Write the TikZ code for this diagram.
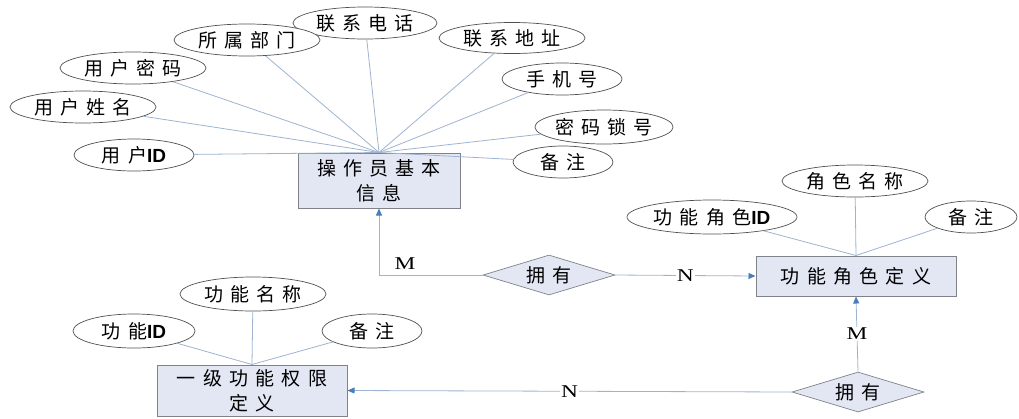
\documentclass[tikz,border=0pt]{standalone}
\usepackage{fontspec}
\setmainfont{Liberation Serif}
\newfontfamily\cjk[LetterSpace=38]{Noto Sans CJK SC}
\newfontfamily\idf{Liberation Sans}
\usetikzlibrary{shapes.geometric,arrows.meta}
\definecolor{lnc}{HTML}{9DB3CF}
\definecolor{ellc}{HTML}{505050}
\definecolor{boxc}{HTML}{7F8288}
\definecolor{boxf}{HTML}{E2E7F3}
\definecolor{arrc}{HTML}{4A7EBB}
\newcommand{\ID}{{\idf\bfseries ID}}
\tikzset{
  attr/.style={ellipse, draw=ellc, line width=0.7pt, fill=white, inner sep=0pt,
    font=\cjk\fontsize{19}{21}\selectfont},
  entity/.style={rectangle, draw=boxc, line width=1pt, fill=boxf, inner sep=0pt,
    align=center, font=\cjk\fontsize{19}{25}\selectfont},
  rel/.style={diamond, draw=boxc, line width=0.7pt, fill=boxf, inner sep=0pt,
    aspect=3.3, minimum width=132pt, minimum height=40pt,
    font=\cjk\fontsize{19}{21}\selectfont},
  link/.style={draw=lnc, line width=0.8pt},
  card/.style={fill=white, inner sep=1pt, xscale=1.3, font=\fontsize{18}{18}\selectfont},
  tip/.style={link, -{Triangle[length=7pt,width=6pt,fill=arrc,color=arrc]}},
}
\begin{document}
\begin{tikzpicture}[x=1pt,y=-1pt]
\useasboundingbox (0,0) rectangle (1019,418);
% entity 1
\node[entity, minimum width=162pt, minimum height=55pt] (e1) at (379,180.5) {操作员基本\\信息};
\node[attr, minimum width=144pt, minimum height=32pt] (tel) at (365,23) {联系电话};
\node[attr, minimum width=146pt, minimum height=32pt] (dept) at (247,40) {所属部门};
\node[attr, minimum width=146pt, minimum height=31pt] (addr) at (512,38) {联系地址};
\node[attr, minimum width=146pt, minimum height=32pt] (pwd) at (133,68) {用户密码};
\node[attr, minimum width=120pt, minimum height=32pt] (mob) at (562,79) {手机号};
\node[attr, minimum width=146pt, minimum height=32pt] (uname) at (83,107) {用户姓名};
\node[attr, minimum width=132pt, minimum height=34pt] (lock) at (604,127) {密码锁号};
\node[attr, minimum width=120pt, minimum height=32pt] (uid) at (134,155) {用户\ID};
\node[attr, minimum width=100pt, minimum height=32pt] (n1) at (563,162) {备注};
\foreach \a in {tel,dept,addr,pwd,mob,uname,lock,uid,n1}
  \draw[link] (\a) -- (e1.north);
% entity 2
\node[entity, minimum width=200pt, minimum height=40pt] (e2) at (856,276) {功能角色定义};
\node[attr, minimum width=146pt, minimum height=32pt] (rname) at (855,181) {角色名称};
\node[attr, minimum width=170pt, minimum height=34pt] (rid) at (712,217) {功能角色\ID};
\node[attr, minimum width=92pt, minimum height=32pt] (n2) at (971,217) {备注};
\foreach \a in {rname,rid,n2}
  \draw[link] (\a) -- (e2.north);
% entity 3
\node[entity, minimum width=190pt, minimum height=51pt] (e3) at (252,390.5) {一级功能权限\\定义};
\node[attr, minimum width=146pt, minimum height=34pt] (fname) at (253,294) {功能名称};
\node[attr, minimum width=122pt, minimum height=34pt] (fid) at (134,331) {功能\ID};
\node[attr, minimum width=100pt, minimum height=34pt] (n3) at (372,331) {备注};
\foreach \a in {fname,fid,n3}
  \draw[link] (\a) -- (e3.north);
% relations
\node[rel] (r1) at (549,275) {拥有};
\node[rel] (r2) at (858,392) {拥有};
\draw[tip] (r1.west) -| (e1.south);
\node[card, fill=none] (m1) at (405,264) {M};
\draw[tip] (r1.east) -- (e2.west) node[card, pos=0.5] (n1l) {N};
\draw[tip] (r2.north) -- (e2.south) node[card, pos=0.5] (m2) {M};
\draw[tip] (r2.west) -- (e3.east) node[card, pos=0.5] (n2l) {N};
\end{tikzpicture}
\end{document}
